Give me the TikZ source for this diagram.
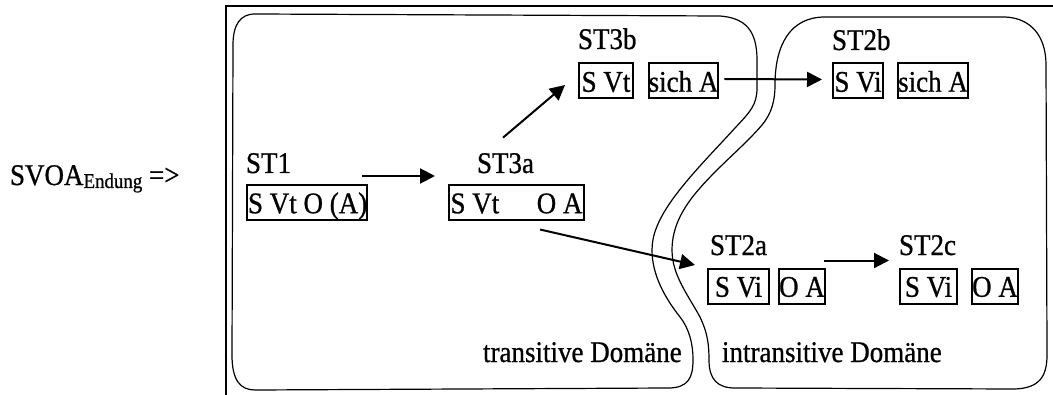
\documentclass[tikz,border=0pt]{standalone}
\usepackage{fontspec}
\setmainfont[FakeStretch=0.9,FakeBold=0.8]{Liberation Serif}
\usetikzlibrary{arrows.meta}
\begin{document}
\begin{tikzpicture}[x=0.5pt,y=-0.5pt,
  lbl/.style={inner sep=0pt, outer sep=0pt, anchor=base west, font=\fontsize{15}{18}\selectfont},
  wbox/.style={draw, line width=1pt, inner sep=0pt, outer sep=0pt, minimum height=17.5pt,
     text height=10.75pt, text depth=0pt, font=\fontsize{15}{18}\selectfont},
  arr/.style={line width=1pt, -{Triangle[length=7.5pt,width=7.5pt]}},
  blob/.style={line width=0.6pt},
  frameline/.style={line width=1pt}]
\useasboundingbox (0,0) rectangle (1053,395);
% outer frame
\draw[frameline] (226,395) -- (226,6.5) -- (1053,6.5);
% transitive domain
\draw[blob] (255,14) -- (720,16) .. controls (745,18) and (757,30) .. (757,60)
  -- (757,88) .. controls (757,105) and (750,112) .. (735,128)
  .. controls (715,150) and (690,175) .. (672,200)
  .. controls (658,220) and (652,235) .. (652,250)
  .. controls (652,275) and (665,298) .. (680,317)
  .. controls (690,330) and (693,345) .. (693,360)
  .. controls (693,378) and (688,388) .. (668,388)
  -- (255,390) .. controls (240,390) and (232,380) .. (232,355)
  -- (233,45) .. controls (233,25) and (240,14) .. (255,14) -- cycle;
% intransitive domain
\draw[blob] (825,17) -- (1005,17) .. controls (1030,18) and (1046,35) .. (1046,65)
  -- (1047,355) .. controls (1047,378) and (1038,388) .. (1015,389)
  -- (735,388) .. controls (718,388) and (709,380) .. (709,360)
  .. controls (709,340) and (706,330) .. (700,317)
  .. controls (688,295) and (672,275) .. (672,250)
  .. controls (672,225) and (685,205) .. (700,188)
  .. controls (720,165) and (745,145) .. (762,125)
  .. controls (772,113) and (775,100) .. (775,85)
  .. controls (775,45) and (790,17) .. (825,17) -- cycle;
% left text
\node[lbl] (svoa) at (10,185) {SVOA\raisebox{-1.5pt}{\fontsize{10.5}{12}\selectfont Endung} =>};
% ST1
\node[lbl] (l1) at (246,173) {ST1};
\node[wbox, minimum width=60pt] (b1) at (307,202.5) {\makebox[59pt][l]{S Vt O (A)}};
% ST3a
\node[lbl] (l3a) at (477,173) {ST3a};
\node[wbox, minimum width=67.5pt] (b3a) at (516.5,202.5) {\makebox[66pt]{S Vt\hfill O A}};
% ST3b
\node[lbl] (l3b) at (578,49) {ST3b};
\node[wbox, minimum width=27pt] (b3b1) at (606,81) {S Vt};
\node[wbox, minimum width=34.5pt] (b3b2) at (683.5,81) {sich A};
% ST2b
\node[lbl] (l2b) at (832,50) {ST2b};
\node[wbox, minimum width=25pt] (b2b1) at (858,81) {S Vi};
\node[wbox, minimum width=35pt] (b2b2) at (933,81) {sich A};
% ST2a
\node[lbl] (l2a) at (710,255) {ST2a};
\node[wbox, minimum width=30.5pt] (b2a1) at (738.5,286) {S Vi};
\node[wbox, minimum width=23pt] (b2a2) at (802,286) {O A};
% ST2c
\node[lbl] (l2c) at (899,255) {ST2c};
\node[wbox, minimum width=28.5pt] (b2c1) at (928.5,286) {S Vi};
\node[wbox, minimum width=23pt] (b2c2) at (995,286) {O A};
% domain labels
\node[lbl] (tdom) at (483,362) {transitive Domäne};
\node[lbl] (idom) at (722,362) {intransitive Domäne};
% arrows
\draw[arr] ([shift={(-5,-9)}]b1.north east) -- ([shift={(-14,-9)}]b3a.north west);
\draw[arr] ([shift={(-2.5,-15.5)}]l3a.north) -- ([shift={(-14,4)}]b3b1.west);
\draw[arr] ([shift={(23.5,9.5)}]b3a.south) -- ([shift={(-13,-21)}]b2a1.west);
\draw[arr] ([shift={(6,-2)}]b3b2.east) -- ([shift={(-11,-1.5)}]b2b1.west);
\draw[arr] ([shift={(-1.5,-8)}]b2a2.north east) -- ([shift={(-11,-8)}]b2c1.north west);
\end{tikzpicture}
\end{document}
